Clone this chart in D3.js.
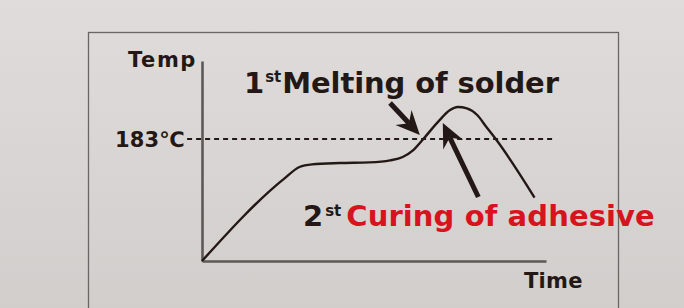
<!DOCTYPE html>
<html>
<head>
<meta charset="utf-8">
<script src="https://cdn.jsdelivr.net/npm/d3@7"></script>
<style>
  html, body { margin: 0; padding: 0; background: #dcd8d6; }
  svg { display: block; }
  text { font-family: "DejaVu Sans", sans-serif; font-weight: bold; fill: #231815; }
</style>
</head>
<body>
<div id="chart"></div>
<script>
// reflow profile (time in s, temp in deg C)
var time_vals = [0, 72, 85, 96, 120, 146, 164, 175, 184, 193, 207, 216, 223, 231, 240, 248, 257, 290];
var temp_vals = [0, 124, 141, 145, 147, 148, 151, 156, 166, 183, 211, 226, 231, 229, 219, 201, 181, 95];
var melt_temp = [183];
var tick_labels = ['183℃'];
// arrows: [t_tail, temp_tail, t_tip, temp_tip]
var arrow_melt = [164, 237, 190, 189];
var arrow_cure = [241, 96, 210, 207];

var chart_width = 684;
var chart_height = 308;
var ink = '#231815';

var svg = d3.select('#chart')
    .append('svg')
    .attr('width', chart_width)
    .attr('height', chart_height);

var defs = svg.append('defs');
var grad = defs.append('linearGradient')
    .attr('id', 'bg')
    .attr('x1', 0).attr('y1', 0)
    .attr('x2', 0).attr('y2', 1);
grad.append('stop').attr('offset', '0%').attr('stop-color', '#e0dcdb');
grad.append('stop').attr('offset', '100%').attr('stop-color', '#d2cecc');

svg.append('rect')
    .attr('width', chart_width)
    .attr('height', chart_height)
    .attr('fill', 'url(#bg)');

// frame
svg.append('rect')
    .attr('x', 88.5)
    .attr('y', 32.5)
    .attr('width', 530)
    .attr('height', 320)
    .attr('fill', 'none')
    .attr('stroke', '#6b6563')
    .attr('stroke-width', 1.3);

var x_scale = d3.scaleLinear()
    .domain([0, 300])
    .range([202, 546]);

var y_scale = d3.scaleLinear()
    .domain([0, 300])
    .range([261, 61]);

// dashed 183 line
svg.append('line')
    .attr('x1', x_scale(-13))
    .attr('x2', x_scale(306))
    .attr('y1', y_scale(melt_temp[0]))
    .attr('y2', y_scale(melt_temp[0]))
    .attr('stroke', ink)
    .attr('stroke-width', 2)
    .attr('stroke-dasharray', '5,4');

// axes
var y_axis = d3.axisLeft(y_scale)
    .tickValues(melt_temp)
    .tickFormat(function (d, i) { return tick_labels[i]; })
    .tickSize(0)
    .tickSizeOuter(0)
    .tickPadding(17);
var gy = svg.append('g')
    .attr('transform', 'translate(' + x_scale(0) + ',0)')
    .call(y_axis);

var x_axis = d3.axisBottom(x_scale).tickValues([]).tickSizeOuter(0);
var gx = svg.append('g')
    .attr('transform', 'translate(0,' + y_scale(0) + ')')
    .call(x_axis);

svg.selectAll('.domain')
    .attr('stroke', '#5e5856')
    .attr('stroke-width', 2.6);
gy.selectAll('.tick text')
    .attr('fill', ink)
    .attr('dy', '0.36em')
    .style('font-size', '21px')
    .style('font-family', '"DejaVu Sans", sans-serif')
    .style('font-weight', 'bold')
    .style('letter-spacing', '0.2px');

svg.append('text')
    .attr('x', 197)
    .attr('y', 67)
    .attr('text-anchor', 'end')
    .style('font-size', '21px')
    .style('letter-spacing', '1.6px')
    .text('Temp');

svg.append('text')
    .attr('x', 524)
    .attr('y', 288)
    .style('font-size', '21px')
    .style('letter-spacing', '0.3px')
    .text('Time');

// profile curve
var line = d3.line()
    .x(function (d, i) { return x_scale(time_vals[i]); })
    .y(function (d, i) { return y_scale(temp_vals[i]); })
    .curve(d3.curveMonotoneX);

svg.append('path')
    .datum(time_vals)
    .attr('d', line)
    .attr('fill', 'none')
    .attr('stroke', ink)
    .attr('stroke-width', 2.4);

// arrows
function draw_arrow(a) {
    var x0 = x_scale(a[0]), y0 = y_scale(a[1]);
    var x1 = x_scale(a[2]), y1 = y_scale(a[3]);
    var dx = x1 - x0, dy = y1 - y0;
    var len = Math.sqrt(dx * dx + dy * dy);
    var ux = dx / len, uy = dy / len;
    var px = -uy, py = ux;
    var head = 24, half = 11, notch = 16;
    svg.append('line')
        .attr('x1', x0).attr('y1', y0)
        .attr('x2', x1 - ux * notch).attr('y2', y1 - uy * notch)
        .attr('stroke', ink)
        .attr('stroke-width', 5);
    var pts = [
        [x1, y1],
        [x1 - ux * head + px * half, y1 - uy * head + py * half],
        [x1 - ux * notch, y1 - uy * notch],
        [x1 - ux * head - px * half, y1 - uy * head - py * half]
    ];
    svg.append('path')
        .attr('d', 'M' + pts.join('L') + 'Z')
        .attr('fill', ink);
}
draw_arrow(arrow_melt);
draw_arrow(arrow_cure);

// annotations
var t1 = svg.append('text')
    .attr('x', 244)
    .attr('y', 93)
    .style('font-size', '29px');
t1.append('tspan').text('1');
t1.append('tspan').attr('dx', 1).attr('dy', -11).style('font-size', '15px').text('st');
t1.append('tspan').attr('dx', 1).attr('dy', 11).style('letter-spacing', '-0.1px').text('Melting of solder');

var t2 = svg.append('text')
    .attr('x', 303)
    .attr('y', 226)
    .style('font-size', '29px');
t2.append('tspan').text('2');
t2.append('tspan').attr('dx', 2).attr('dy', -10).style('font-size', '15px').text('st');
t2.append('tspan').attr('dx', 5).attr('dy', 10)
    .style('fill', '#d7141d').style('letter-spacing', '0.1px').text('Curing of adhesive');
</script>
</body>
</html>
